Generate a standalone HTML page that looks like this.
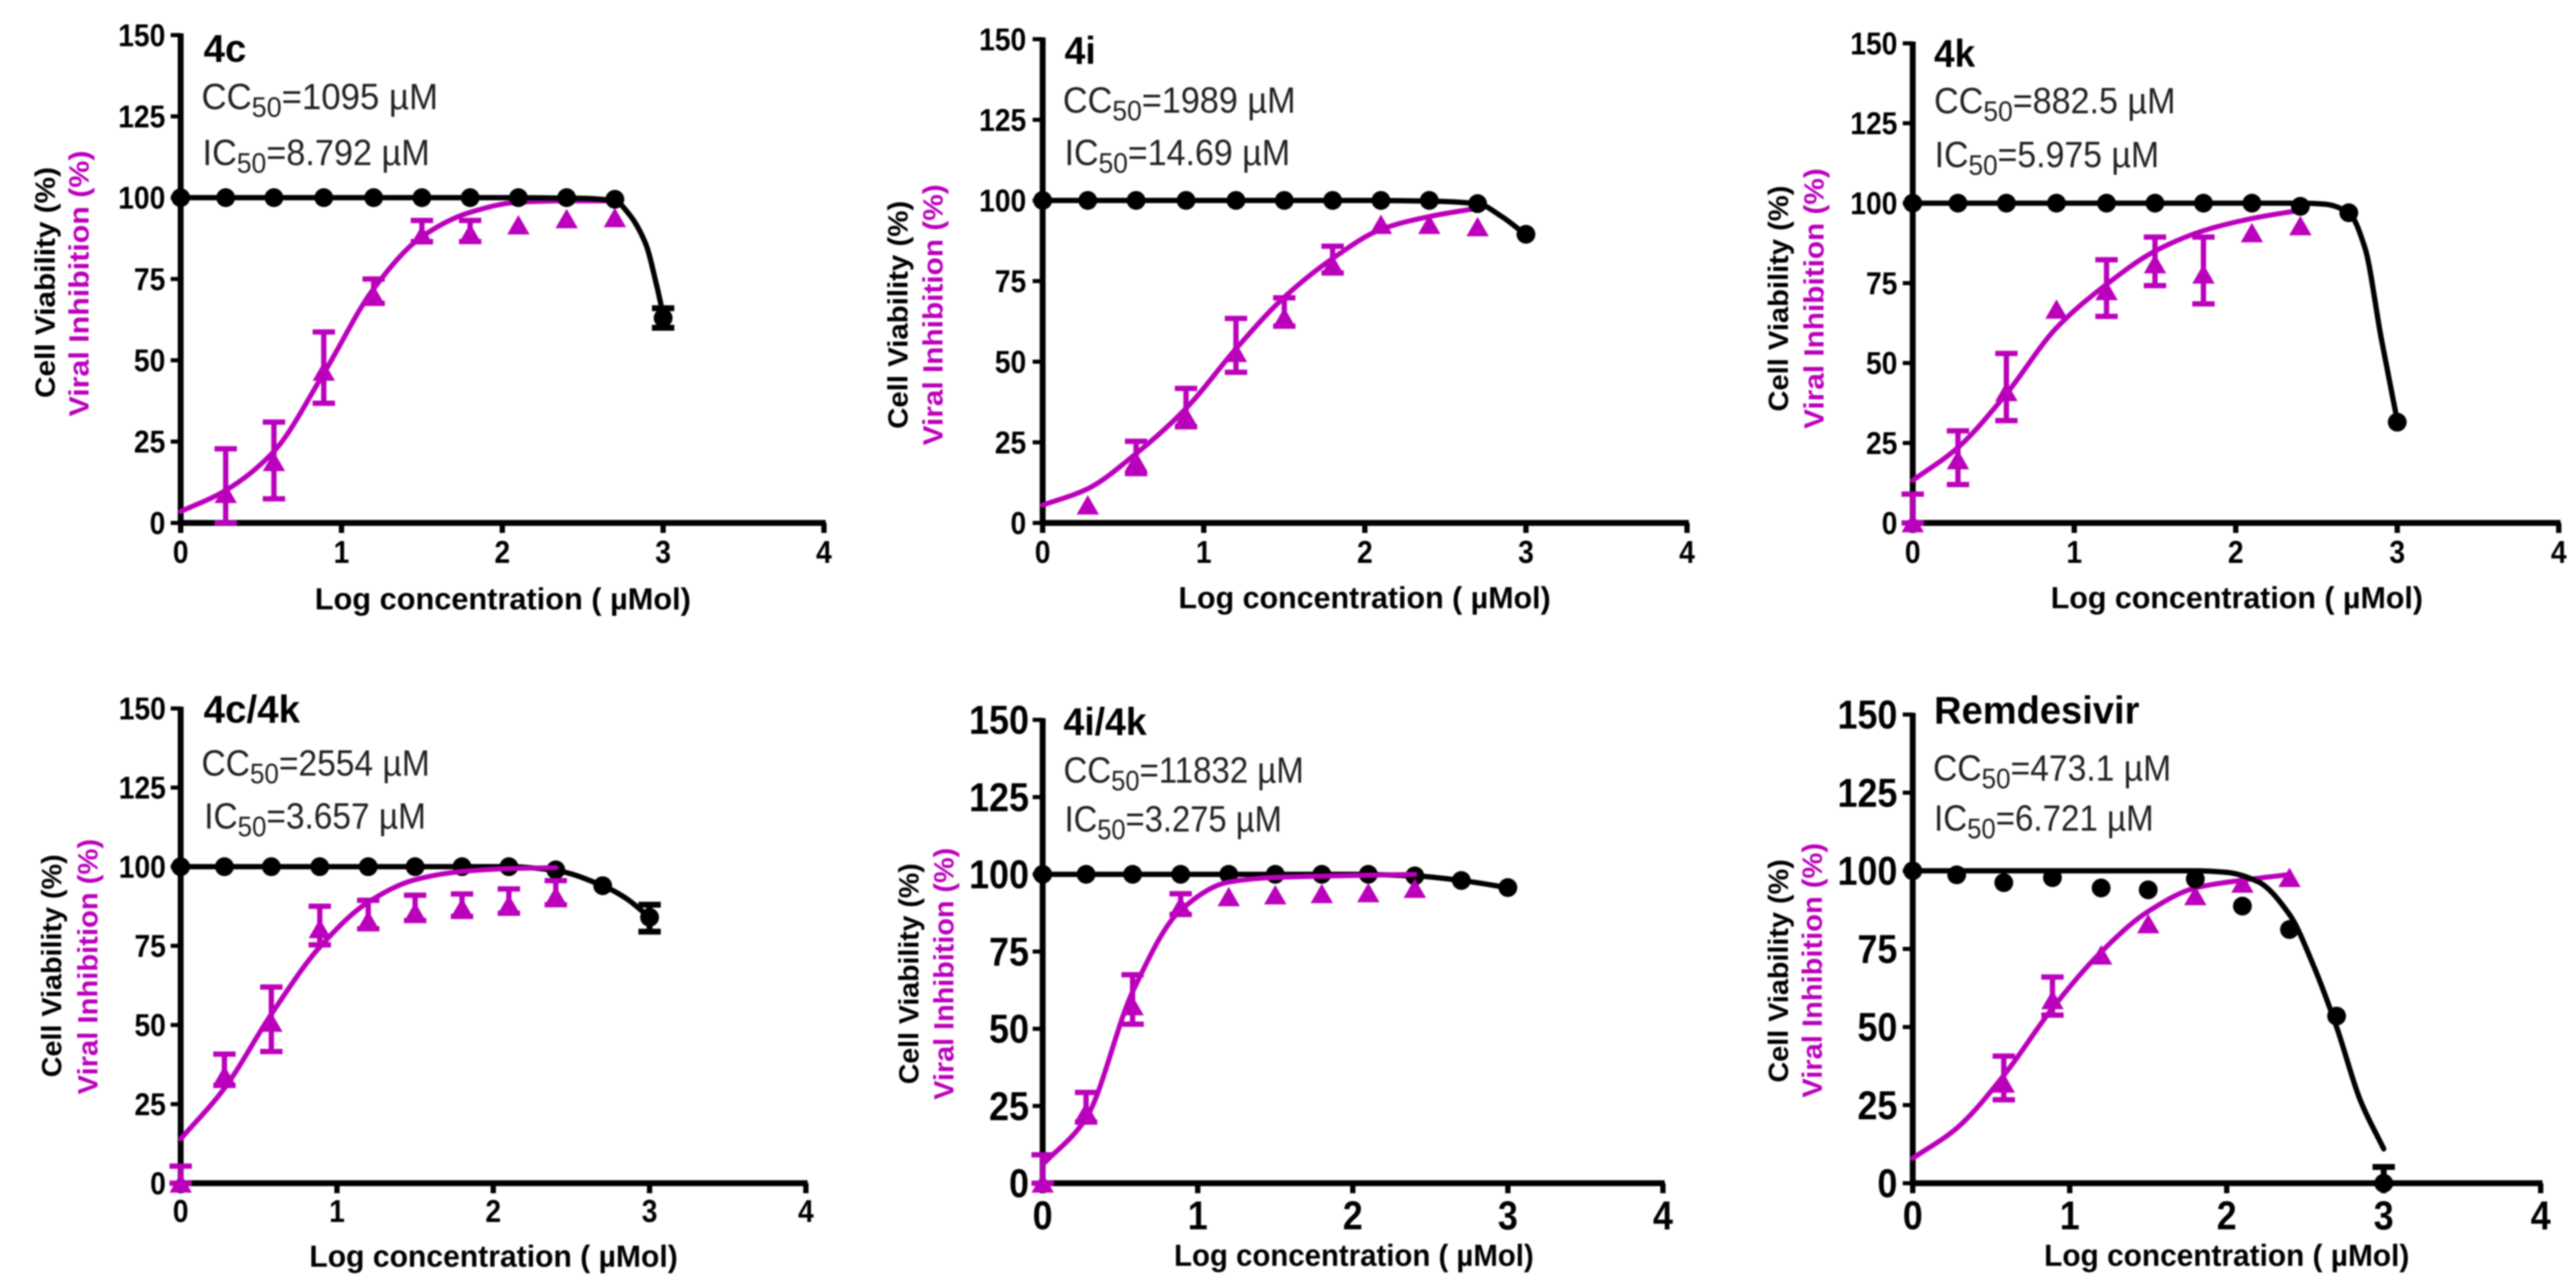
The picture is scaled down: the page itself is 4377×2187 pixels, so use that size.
<!DOCTYPE html>
<html lang="en">
<head>
<meta charset="utf-8">
<title>Cell viability and viral inhibition dose-response charts</title>
<style>
html,body{margin:0;padding:0;background:#fff;}
svg{display:block;filter:blur(1.2px);}
text{font-family:"Liberation Sans",Arial,sans-serif;}
</style>
</head>
<body>
<svg id="figure" xmlns="http://www.w3.org/2000/svg" width="4377" height="2187" viewBox="0 0 4377 2187"></svg>
<script>
// Shared chart values
const doseX = [0, 0.28, 0.58, 0.89, 1.2, 1.5, 1.8, 2.1, 2.4, 2.7, 3.0];
const xTickLabels = [0, 1, 2, 3, 4];
const yTickLabels = [0, 25, 50, 75, 100, 125, 150];

// 4c
const viability4c = [100, 100, 100, 100, 100, 100, 100, 100, 100, 99.5, 63];
const viabilityHi4c = [null, null, null, null, null, null, null, null, null, null, 66];
const viabilityLo4c = [null, null, null, null, null, null, null, null, null, null, 60];
const inhibition4c = [null, 9, 18.8, 46.6, 70, 88.5, 89, 91.6, 93.5, 93.8, null];
const inhibitionHi4c = [null, 22.8, 31, 58.7, 75, 93, 93, null, null, null, null];
const inhibitionLo4c = [null, 0, 7.4, 36.8, 67.5, 86.5, 86.5, null, null, null, null];
const viabilityFitX4c = [0, 1, 2, 2.5, 2.7, 2.79, 2.89, 2.96, 3.0];
const viabilityFitY4c = [100, 100, 100, 99.8, 99, 94.8, 86, 73, 64];
const inhibitionFitX4c = [0, 0.28, 0.58, 0.89, 1.2, 1.5, 1.8, 2.1, 2.4, 2.7];
const inhibitionFitY4c = [3.5, 10, 22, 46, 72, 88, 95.5, 98.6, 99, 99];

// 4i
const viability4i = [100, 100, 100, 100, 100, 100, 100, 100, 100, 99, 89.5];
const inhibition4i = [null, 5.5, 19, 33, 52.8, 63.7, 80, 92.5, 92.5, 91.8, null];
const inhibitionHi4i = [null, null, 25.3, 41.7, 63.4, 69.8, 85.8, null, null, null, null];
const inhibitionLo4i = [null, null, 15.3, 29.8, 46.7, 61, 77.5, null, null, null, null];
const viabilityFitX4i = [0, 1, 2, 2.4, 2.7, 2.85, 3.0];
const viabilityFitY4i = [100, 100, 100, 99.8, 99, 95, 89.3];
const inhibitionFitX4i = [0, 0.28, 0.58, 0.89, 1.2, 1.5, 1.8, 2.1, 2.4, 2.7];
const inhibitionFitY4i = [5.5, 10.6, 21.5, 35.5, 54, 70, 82, 91, 95, 97.6];

// 4k
const viability4k = [100, 100, 100, 100, 100, 100, 100, 100, 99, 97, 31.5];
const inhibition4k = [0, 19.7, 41, 66.8, 72.6, 81, 77.8, 90.7, 92.9, null, null];
const inhibitionHi4k = [9, 28.8, 53, null, 82.3, 89.4, 89.4, null, null, null, null];
const inhibitionLo4k = [0, 12, 32, null, 64.6, 74.2, 68.5, null, null, null, null];
const viabilityFitX4k = [0, 1, 2, 2.4, 2.55, 2.7, 2.8, 2.9, 3.0];
const viabilityFitY4k = [100, 100, 100, 100, 99.7, 97, 86, 58, 32];
const inhibitionFitX4k = [0, 0.28, 0.58, 0.89, 1.2, 1.5, 1.8, 2.1, 2.4];
const inhibitionFitY4k = [13.3, 23.6, 40.4, 61, 74.6, 85, 91.4, 95.2, 97.8];

// 4c/4k
const viability4c4k = [100, 100, 100, 100, 100, 100, 100, 100, 99, 94, 84];
const viabilityHi4c4k = [null, null, null, null, null, null, null, null, null, null, 88];
const viabilityLo4c4k = [null, null, null, null, null, null, null, null, null, null, 79.5];
const inhibition4c4k = [0, 34, 50.8, 80.4, 83, 85.6, 87, 88, 90.7, null, null];
const inhibitionHi4c4k = [5.4, 40.8, 62, 87.5, 89.4, 91, 91.4, 93, 95.6, null, null];
const inhibitionLo4c4k = [0, 30.9, 41.6, 75.3, 80.4, 83, 84.3, 85.3, 88, null, null];
const viabilityFitX4c4k = [0, 1, 2.1, 2.4, 2.7, 2.85, 3.0];
const viabilityFitY4c4k = [100, 100, 100, 98.8, 94, 90, 84];
const inhibitionFitX4c4k = [0, 0.28, 0.58, 0.89, 1.2, 1.5, 1.8, 2.1, 2.4];
const inhibitionFitY4c4k = [14, 30, 53.4, 74.6, 88.8, 95.9, 98.5, 99.4, 99.7];

// 4i/4k
const viability4i4k = [100, 100, 100, 100, 100, 100, 100, 100, 99.5, 98, 95.7];
const inhibition4i4k = [0, 23, 57.4, 89.7, 92.7, 93.3, 93.7, 94, 95.4, null, null];
const inhibitionHi4i4k = [9.2, 29.4, 67.5, 93.7, null, null, null, null, null, null, null];
const inhibitionLo4i4k = [0, 19.8, 51.5, 87, null, null, null, null, null, null, null];
const viabilityFitX4i4k = [0, 1, 2, 2.4, 2.7, 3.0];
const viabilityFitY4i4k = [100, 100, 100, 99.5, 98, 95.7];
const inhibitionFitX4i4k = [0, 0.28, 0.58, 0.89, 1.2, 1.5, 2.4];
const inhibitionFitY4i4k = [6, 21, 62, 88.4, 97.5, 99, 100];

// Remdesivir
const viabilityRem = [100, 98.7, 96.2, 97.8, 94.5, 93.9, 97.4, 88.7, 81.2, 53.5, 0];
const viabilityHiRem = [null, null, null, null, null, null, null, null, null, null, 5.2];
const viabilityLoRem = [null, null, null, null, null, null, null, null, null, null, 0];
const inhibitionRem = [null, null, 32, 58.7, 73, 83, 92, 96, 97.8, null, null];
const inhibitionHiRem = [null, null, 40.7, 66, null, null, null, null, null, null, null];
const inhibitionLoRem = [null, null, 26.7, 53.8, null, null, null, null, null, null, null];
const viabilityFitXRem = [0, 1, 1.8, 2.0, 2.2, 2.4, 2.55, 2.7, 2.85, 3.0];
const viabilityFitYRem = [100, 100, 100, 99.5, 96.5, 86, 70, 50, 26.7, 11];
const inhibitionFitXRem = [0, 0.28, 0.58, 0.89, 1.2, 1.5, 1.8, 2.1, 2.4];
const inhibitionFitYRem = [8, 17.6, 34.5, 56, 74, 87, 94.5, 97, 98.8];

const BLACK = '#000';
const PURPLE = '#bb00bb';
const TEXT_DARK = '#222';
const SVG_NS = 'http://www.w3.org/2000/svg';
const figure = document.getElementById('figure');

function make(parent, tag, attrs) {
  const node = document.createElementNS(SVG_NS, tag);
  for (const k in attrs) node.setAttribute(k, attrs[k]);
  parent.appendChild(node);
  return node;
}

// Layout measures below are in reference-crop units, converted by fx / fy.
const panels = [
  {id:'4c', title:'4c', cc:'=1095 µM', ic:'=8.792 µM', ox:0, oy:0, ky:1.427, x0:330, x4:1505, y0:1268, y150:85,
   titleAt:[372,150,450], ccAt:[368,265,800], icAt:[370,400,785], cell:[100,965,405], viral:[162,1010,365], xl:[575,1262,1478],
   tickRight:302, xTickBase:1365, tickFont:48, inhibitionOnTop:false,
   v:viability4c, vHi:viabilityHi4c, vLo:viabilityLo4c, i:inhibition4c, iHi:inhibitionHi4c, iLo:inhibitionLo4c,
   vfx:viabilityFitX4c, vfy:viabilityFitY4c, ifx:inhibitionFitX4c, ify:inhibitionFitY4c},
  {id:'4i', title:'4i', cc:'=1989 µM', ic:'=14.69 µM', ox:1460, oy:0, ky:1.427, x0:335, x4:1512, y0:1268, y150:95,
   titleAt:[375,155,432], ccAt:[372,273,797], icAt:[375,400,787], cell:[88,1040,487], viral:[152,1080,447], xl:[583,1263,1475],
   tickRight:305, xTickBase:1365, tickFont:48, inhibitionOnTop:false,
   v:viability4i, vHi:null, vLo:null, i:inhibition4i, iHi:inhibitionHi4i, iLo:inhibitionLo4i,
   vfx:viabilityFitX4i, vfy:viabilityFitY4i, ifx:inhibitionFitX4i, ify:inhibitionFitY4i},
  {id:'4k', title:'4k', cc:'=882.5 µM', ic:'=5.975 µM', ox:2917, oy:0, ky:1.427, x0:358, x4:1538, y0:1268, y150:105,
   titleAt:[397,162,472], ccAt:[397,275,838], icAt:[398,405,808], cell:[130,998,450], viral:[195,1040,408], xl:[610,1290,1475],
   tickRight:330, xTickBase:1365, tickFont:48, inhibitionOnTop:false,
   v:viability4k, vHi:null, vLo:null, i:inhibition4k, iHi:inhibitionHi4k, iLo:inhibitionLo4k,
   vfx:viabilityFitX4k, vfy:viabilityFitY4k, ifx:inhibitionFitX4k, ify:inhibitionFitY4k},
  {id:'4c-4k', title:'4c/4k', cc:'=2554 µM', ic:'=3.657 µM', ox:0, oy:1100, ky:1.444, x0:330, x4:1472, y0:1315, y150:150,
   titleAt:[372,185,548], ccAt:[368,315,785], icAt:[373,445,778], cell:[112,1055,508], viral:[178,1097,470], xl:[565,1238,1520],
   tickRight:303, xTickBase:1410, tickFont:48, inhibitionOnTop:true,
   v:viability4c4k, vHi:viabilityHi4c4k, vLo:viabilityLo4c4k, i:inhibition4c4k, iHi:inhibitionHi4c4k, iLo:inhibitionLo4c4k,
   vfx:viabilityFitX4c4k, vfy:viabilityFitY4c4k, ifx:inhibitionFitX4c4k, ify:inhibitionFitY4c4k},
  {id:'4i-4k', title:'4i/4k', cc:'=11832 µM', ic:'=3.275 µM', ox:1460, oy:1100, ky:1.444, x0:335, x4:1468, y0:1315, y150:178,
   titleAt:[373,215,525], ccAt:[373,332,812], icAt:[375,452,772], cell:[108,1072,530], viral:[172,1110,492], xl:[575,1232,1518],
   tickRight:310, xTickBase:1428, tickFont:61, inhibitionOnTop:true,
   v:viability4i4k, vHi:null, vLo:null, i:inhibition4i4k, iHi:inhibitionHi4i4k, iLo:inhibitionLo4i4k,
   vfx:viabilityFitX4i4k, vfy:viabilityFitY4i4k, ifx:inhibitionFitX4i4k, ify:inhibitionFitY4i4k},
  {id:'remdesivir', title:'Remdesivir', cc:'=473.1 µM', ic:'=6.721 µM', ox:2917, oy:1100, ky:1.444, x0:358, x4:1505, y0:1315, y150:165,
   titleAt:[397,187,772], ccAt:[395,327,830], icAt:[397,450,798], cell:[130,1068,520], viral:[192,1105,480], xl:[598,1265,1518],
   tickRight:330, xTickBase:1428, tickFont:61, inhibitionOnTop:false,
   v:viabilityRem, vHi:viabilityHiRem, vLo:viabilityLoRem, i:inhibitionRem, iHi:inhibitionHiRem, iLo:inhibitionLoRem,
   vfx:viabilityFitXRem, vfy:viabilityFitYRem, ifx:inhibitionFitXRem, ify:inhibitionFitYRem}
];

// Smooth monotone curve through the fit points
function fitPath(xs, ys, sx, sy) {
  const n = xs.length;
  const px = xs.map(sx);
  const py = ys.map(sy);
  const d = [];
  for (let k = 0; k < n - 1; k++) d.push((py[k + 1] - py[k]) / (px[k + 1] - px[k]));
  const m = new Array(n);
  m[0] = d[0];
  m[n - 1] = d[n - 2];
  for (let k = 1; k < n - 1; k++) {
    m[k] = d[k - 1] * d[k] <= 0 ? 0 : 2 * d[k - 1] * d[k] / (d[k - 1] + d[k]);
  }
  let out = 'M' + px[0].toFixed(1) + ' ' + py[0].toFixed(1);
  for (let k = 0; k < n - 1; k++) {
    const h = (px[k + 1] - px[k]) / 3;
    out += ' C' + (px[k] + h).toFixed(1) + ' ' + (py[k] + m[k] * h).toFixed(1) + ' ' +
      (px[k + 1] - h).toFixed(1) + ' ' + (py[k + 1] - m[k + 1] * h).toFixed(1) + ' ' +
      px[k + 1].toFixed(1) + ' ' + py[k + 1].toFixed(1);
  }
  return out;
}

function drawErrorBars(group, values, hi, lo, color, width, sx, sy, label) {
  if (!hi) return;
  values.forEach((val, idx) => {
    if (hi[idx] === null || hi[idx] === undefined) return;
    const cx = sx(doseX[idx]);
    const yHi = sy(hi[idx]);
    const yLo = sy(lo[idx]);
    const bar = make(group, 'path', {
      d: 'M' + cx + ' ' + yHi + ' V' + yLo + ' M' + (cx - 19) + ' ' + yHi + ' H' + (cx + 19) + ' M' + (cx - 19) + ' ' + yLo + ' H' + (cx + 19),
      fill: 'none', stroke: color, 'stroke-width': width
    });
    
    
  });
}

panels.forEach(p => {
  const fx = v => p.ox + v / 1.075;
  const fy = v => p.oy + v / p.ky;
  const left = fx(p.x0), right = fx(p.x4), bottom = fy(p.y0), top = fy(p.y150);
  const sx = v => left + (v / 4) * (right - left);
  const sy = v => bottom - (v / 150) * (bottom - top);
  const tickGlyph = p.tickFont * 1.12;

  const g = make(figure, 'g', {});
  
  

  // axes
  const yAxis = make(g, 'line', {x1: left, x2: left, y1: top - 3, y2: bottom + 4, stroke: BLACK, 'stroke-width': 10});
  
  
  const xAxis = make(g, 'line', {x1: left - 4, x2: right + 3, y1: bottom, y2: bottom, stroke: BLACK, 'stroke-width': 10});
  
  

  yTickLabels.forEach(v => {
    const tick = make(g, 'line', {x1: left - 17, x2: left, y1: sy(v), y2: sy(v), stroke: BLACK, 'stroke-width': 7});
    
    
    const label = make(g, 'text', {
      x: fx(p.tickRight), y: sy(v) + tickGlyph * 0.35, 'text-anchor': 'end',
      'font-size': tickGlyph, 'font-weight': 'bold', fill: BLACK,
      textLength: p.tickFont * 0.556 * String(v).length, lengthAdjust: 'spacingAndGlyphs'
    });
    label.textContent = v;
    
    
  });

  xTickLabels.forEach(v => {
    const tick = make(g, 'line', {x1: sx(v), x2: sx(v), y1: bottom, y2: bottom + 17, stroke: BLACK, 'stroke-width': 9});
    
    
    const label = make(g, 'text', {
      x: sx(v), y: fy(p.xTickBase), 'text-anchor': 'middle',
      'font-size': tickGlyph, 'font-weight': 'bold', fill: BLACK,
      textLength: p.tickFont * 0.556, lengthAdjust: 'spacingAndGlyphs'
    });
    label.textContent = v;
    
    
  });

  // axis titles
  const xTitle = make(g, 'text', {
    x: fx(p.xl[0]), y: fy(p.xl[2]), 'font-size': 52, 'font-weight': 'bold', fill: BLACK,
    textLength: (p.xl[1] - p.xl[0]) / 1.075, lengthAdjust: 'spacingAndGlyphs'
  });
  xTitle.textContent = 'Log concentration ( µMol)';
  
  

  const cellTitle = make(g, 'text', {
    x: fx(p.cell[0]), y: fy(p.cell[1]), 'font-size': 47, 'font-weight': 'bold', fill: BLACK,
    transform: 'rotate(-90 ' + fx(p.cell[0]) + ' ' + fy(p.cell[1]) + ')',
    textLength: (p.cell[1] - p.cell[2]) / p.ky, lengthAdjust: 'spacingAndGlyphs'
  });
  cellTitle.textContent = 'Cell Viability (%)';
  
  

  const viralTitle = make(g, 'text', {
    x: fx(p.viral[0]), y: fy(p.viral[1]), 'font-size': 47, 'font-weight': 'bold', fill: PURPLE,
    transform: 'rotate(-90 ' + fx(p.viral[0]) + ' ' + fy(p.viral[1]) + ')',
    textLength: (p.viral[1] - p.viral[2]) / p.ky, lengthAdjust: 'spacingAndGlyphs'
  });
  viralTitle.textContent = 'Viral Inhibition (%)';
  
  

  // annotations
  const titleText = make(g, 'text', {
    x: fx(p.titleAt[0]), y: fy(p.titleAt[1]), 'font-size': 66, 'font-weight': 'bold', fill: BLACK,
    textLength: (p.titleAt[2] - p.titleAt[0]) / 1.075, lengthAdjust: 'spacingAndGlyphs'
  });
  titleText.textContent = p.title;
  
  

  [['CC', p.cc, p.ccAt, 'cc50-annotation'], ['IC', p.ic, p.icAt, 'ic50-annotation']].forEach(row => {
    const at = row[2];
    const t = make(g, 'text', {
      x: fx(at[0]), y: fy(at[1]), 'font-size': 62, fill: TEXT_DARK,
      textLength: (at[2] - at[0]) / 1.075, lengthAdjust: 'spacingAndGlyphs'
    });
    
    
    const a = make(t, 'tspan', {});
    a.textContent = row[0];
    const s = make(t, 'tspan', {'font-size': 48, dy: 13});
    s.textContent = '50';
    const b = make(t, 'tspan', {dy: -13});
    b.textContent = row[1];
  });

  function drawViability() {
    const curve = make(g, 'path', {
      d: fitPath(p.vfx, p.vfy, sx, sy), fill: 'none', stroke: BLACK, 'stroke-width': 9, 'stroke-linecap': 'round'
    });
    
    
    drawErrorBars(g, p.v, p.vHi, p.vLo, BLACK, 10, sx, sy, 'cell-viability');
    p.v.forEach((val, idx) => {
      if (val === null) return;
      const dot = make(g, 'circle', {cx: sx(doseX[idx]), cy: sy(val), r: 16, fill: BLACK});
      
      
    });
  }

  function drawInhibition() {
    const curve = make(g, 'path', {
      d: fitPath(p.ifx, p.ify, sx, sy), fill: 'none', stroke: PURPLE, 'stroke-width': 8.5, 'stroke-linecap': 'round'
    });
    
    
    drawErrorBars(g, p.i, p.iHi, p.iLo, PURPLE, 9, sx, sy, 'viral-inhibition');
    p.i.forEach((val, idx) => {
      if (val === null) return;
      const cx = sx(doseX[idx]);
      const cy = sy(val);
      const tri = make(g, 'polygon', {
        points: cx + ',' + (cy - 17) + ' ' + (cx - 19) + ',' + (cy + 16) + ' ' + (cx + 19) + ',' + (cy + 16),
        fill: PURPLE
      });
      
      
    });
  }

  if (p.inhibitionOnTop) {
    drawViability();
    drawInhibition();
  } else {
    drawInhibition();
    drawViability();
  }
});
</script>
</body>
</html>
